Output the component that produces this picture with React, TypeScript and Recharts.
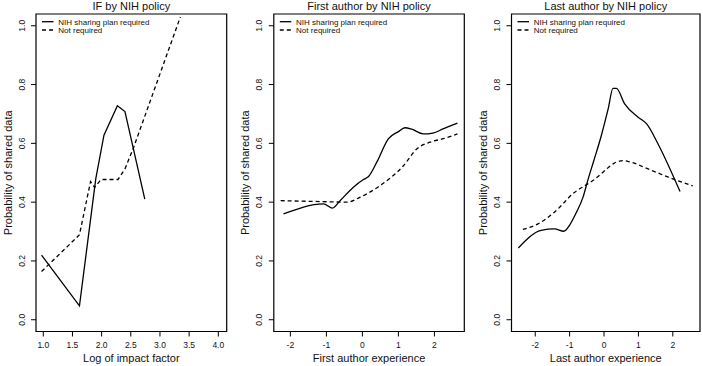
import { LineChart, Line, XAxis, YAxis, ReferenceArea } from "recharts";

// panel 1: log impact factor
const ifSolidX = [0.97, 1.62, 1.9, 2.04, 2.27, 2.4, 2.74];
const ifSolidY = [0.22, 0.047, 0.48, 0.628, 0.728, 0.708, 0.41];
const ifDashX = [0.97, 1.62, 1.81, 1.88, 1.99, 2.28, 2.4, 2.55, 3.35];
const ifDashY = [0.164, 0.289, 0.47, 0.45, 0.477, 0.477, 0.513, 0.587, 1.03];

// panel 2: first author experience
const faSolidX = [-2.19, -1.08, -0.83, -0.62, -0.25, 0.03, 0.17, 0.4, 0.72, 1.0, 1.18, 1.37, 1.69, 1.96, 2.24, 2.64];
const faSolidY = [0.36, 0.394, 0.38, 0.405, 0.451, 0.477, 0.487, 0.536, 0.615, 0.64, 0.653, 0.648, 0.632, 0.635, 0.649, 0.669];
const faDashX = [-2.27, -1.17, -0.43, -0.06, 0.49, 1.14, 1.51, 1.88, 2.25, 2.64];
const faDashY = [0.405, 0.402, 0.4, 0.417, 0.456, 0.524, 0.581, 0.604, 0.616, 0.632];

// panel 3: last author experience
const laSolidX = [-2.49, -1.83, -1.44, -1.17, -1.0, -0.8, -0.61, -0.47, -0.3, -0.08, 0.12, 0.26, 0.36, 0.6, 0.99, 1.24, 1.57, 2.21];
const laSolidY = [0.244, 0.304, 0.309, 0.301, 0.322, 0.366, 0.417, 0.475, 0.54, 0.626, 0.717, 0.787, 0.787, 0.734, 0.689, 0.666, 0.598, 0.436];
const laDashX = [-2.36, -1.92, -1.44, -0.85, -0.56, -0.27, 0.0, 0.3, 0.55, 0.75, 1.28, 1.87, 2.58];
const laDashY = [0.307, 0.326, 0.366, 0.434, 0.456, 0.478, 0.505, 0.533, 0.541, 0.537, 0.513, 0.485, 0.455];

const yTicks = [0, 0.2, 0.4, 0.6, 0.8, 1.0];
const ifTicks = [1.0, 1.5, 2.0, 2.5, 3.0, 3.5, 4.0];
const expTicks = [-2, -1, 0, 1, 2];

const legendLabels = ["NIH sharing plan required", "Not required"];

const FONT = "'Liberation Sans', Arial, Helvetica, sans-serif";

const zip = (xs: number[], ys: number[]) => xs.map((x, i) => ({ x, y: ys[i] }));

interface PanelProps {
  title: string;
  xLabel: string;
  left: number;
  width: number;
  boxL: number;
  boxR: number;
  xDomain: [number, number];
  xTicks: number[];
  xFmt: (v: number) => string;
  solid: { x: number; y: number }[];
  dashed: { x: number; y: number }[];
  curve: "linear" | "monotone";
}

const TOP = 14;
const BOTTOM = 331.5;
const H = 366;

function Panel(p: PanelProps) {
  const margin = {
    top: TOP,
    bottom: H - BOTTOM - 30,
    left: p.boxL - p.left - 30,
    right: p.left + p.width - p.boxR,
  };
  const bl = p.boxL - p.left;
  const br = p.boxR - p.left;
  const cx = (bl + br) / 2;

  const XTick = (props: any) => (
    <text x={props.x} y={348.3} textAnchor="middle" fontSize={8.5} fontFamily={FONT} fill="#111">
      {p.xFmt(props.payload.value)}
    </text>
  );
  const YTick = (props: any) => {
    const tx = bl - 14.3;
    return (
      <text
        x={tx}
        y={props.y}
        dy={3}
        textAnchor="middle"
        fontSize={8.5}
        fontFamily={FONT}
        fill="#111"
        transform={`rotate(-90 ${tx} ${props.y})`}
      >
        {props.payload.value.toFixed(1)}
      </text>
    );
  };

  return (
    <div style={{ position: "absolute", left: p.left, top: 0, width: p.width, height: H }}>
      <LineChart width={p.width} height={H} margin={margin}>
        <XAxis
          type="number"
          dataKey="x"
          domain={p.xDomain}
          ticks={p.xTicks}
          allowDataOverflow
          axisLine={false}
          tickLine={{ stroke: "#000" }}
          tickSize={5}
          height={30}
          tick={XTick}
          interval={0}
          label={{
            content: () => (
              <text x={cx} y={362} textAnchor="middle" fontSize={11} fontFamily={FONT} fill="#111">
                {p.xLabel}
              </text>
            ),
          }}
        />
        <YAxis
          type="number"
          domain={[-0.04, 1.04]}
          ticks={yTicks}
          allowDataOverflow
          axisLine={false}
          tickLine={{ stroke: "#000" }}
          tickSize={5}
          width={30}
          tick={YTick}
          interval={0}
          label={{
            content: () => (
              <text
                x={bl - 28.5}
                y={(TOP + BOTTOM) / 2}
                dy={4}
                textAnchor="middle"
                fontSize={11}
                fontFamily={FONT}
                fill="#111"
                transform={`rotate(-90 ${bl - 28.5} ${(TOP + BOTTOM) / 2})`}
              >
                Probability of shared data
              </text>
            ),
          }}
        />
        <ReferenceArea
          x1={p.xDomain[0]}
          x2={p.xDomain[1]}
          y1={-0.04}
          y2={1.04}
          fill="none"
          stroke="#000"
          strokeWidth={1.2}
          ifOverflow="visible"
        />
        <Line
          data={p.solid}
          dataKey="y"
          type={p.curve}
          stroke="#000"
          strokeWidth={1.3}
          dot={false}
          isAnimationActive={false}
        />
        <Line
          data={p.dashed}
          dataKey="y"
          type={p.curve}
          stroke="#000"
          strokeWidth={1.3}
          strokeDasharray="4 3"
          dot={false}
          isAnimationActive={false}
        />
      </LineChart>
      <svg
        width={p.width}
        height={H}
        style={{ position: "absolute", left: 0, top: 0, pointerEvents: "none" }}
      >
        <text x={cx} y={10} textAnchor="middle" fontSize={11} fontFamily={FONT} fill="#111">
          {p.title}
        </text>
        <line x1={bl + 6} x2={bl + 17.5} y1={21.7} y2={21.7} stroke="#000" strokeWidth={1.3} />
        <line
          x1={bl + 6}
          x2={bl + 17.5}
          y1={30}
          y2={30}
          stroke="#000"
          strokeWidth={1.3}
          strokeDasharray="4 3"
        />
        <text x={bl + 22.3} y={24.6} fontSize={8} fontFamily={FONT} fill="#111">
          {legendLabels[0]}
        </text>
        <text x={bl + 22.3} y={32.9} fontSize={8} fontFamily={FONT} fill="#111">
          {legendLabels[1]}
        </text>
      </svg>
    </div>
  );
}

export default function App() {
  return (
    <div
      style={{
        position: "absolute",
        left: 0,
        top: 0,
        width: 703,
        height: 366,
        background: "#fff",
        overflow: "hidden",
      }}
    >
      <Panel
        title="IF by NIH policy"
        xLabel="Log of impact factor"
        left={0}
        width={234}
        boxL={36}
        boxR={226.7}
        xDomain={[0.875, 4.144]}
        xTicks={ifTicks}
        xFmt={(v) => v.toFixed(1)}
        solid={zip(ifSolidX, ifSolidY)}
        dashed={zip(ifDashX, ifDashY)}
        curve="linear"
      />
      <Panel
        title="First author by NIH policy"
        xLabel="First author experience"
        left={236}
        width={234}
        boxL={273.8}
        boxR={464.3}
        xDomain={[-2.46, 2.83]}
        xTicks={expTicks}
        xFmt={(v) => String(v)}
        solid={zip(faSolidX, faSolidY)}
        dashed={zip(faDashX, faDashY)}
        curve="monotone"
      />
      <Panel
        title="Last author by NIH policy"
        xLabel="Last author experience"
        left={472}
        width={231}
        boxL={511.5}
        boxR={700}
        xDomain={[-2.69, 2.79]}
        xTicks={expTicks}
        xFmt={(v) => String(v)}
        solid={zip(laSolidX, laSolidY)}
        dashed={zip(laDashX, laDashY)}
        curve="monotone"
      />
    </div>
  );
}
